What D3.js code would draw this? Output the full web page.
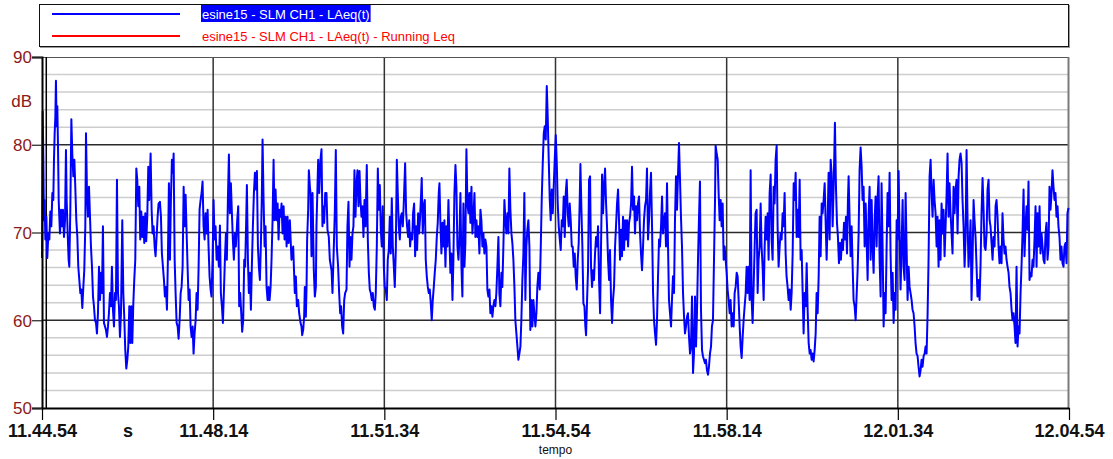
<!DOCTYPE html>
<html>
<head>
<meta charset="utf-8">
<script src="https://cdn.jsdelivr.net/npm/d3@7"></script>
<style>
  html, body { margin: 0; padding: 0; background: #fff; }
  svg { display: block; font-family: "Liberation Sans", Arial, sans-serif; }
</style>
</head>
<body>
<svg id="chart" width="1113" height="459"></svg>
<script>
// Time axis: seconds elapsed since 11.44.54, one labelled tick every 3'20"
const tickSeconds = [0, 200, 400, 600, 800, 1000, 1200];
const tickLabels = ["11.44.54", "11.48.14", "11.51.34", "11.54.54", "11.58.14", "12.01.34", "12.04.54"];
// Level axis (dB)
const levelDomain = [50, 90];
const majorLevels = [50, 60, 70, 80, 90];
const minorStep = 2;
// Legend entries
const seriesNames = ["esine15 - SLM CH1 - LAeq(t)", "esine15 - SLM CH1 - LAeq(t) - Running Leq"];
const seriesColors = ["#0000ff", "#ff0000"];
// Cursor marker (seconds)
const cursorSeconds = 5;

// LAeq(t) samples: [seconds since start, dB]
const levelSeries = [
[0,67.1],[0.8,83.8],[1.6,78.3],[2.3,71.4],[3.1,73.7],[3.9,69.2],[5.1,71.8],[6.2,67.1],[7.4,69.9],[8.6,69.2],[9.7,72.4],[10.9,70.7],[12.1,74.5],[13.2,73.7],[14.0,78.3],[14.8,81.3],[15.6,83.2],[16.3,87.3],[17.1,82.1],[17.9,84.4],[18.7,79.8],[19.5,73.7],[20.2,71.8],[21.0,69.9],[22.2,72.6],[23.4,70.7],[24.5,72.6],[25.7,69.5],[26.9,71.4],[28.0,79.4],[28.8,73.7],[30.0,69.9],[31.1,66.9],[31.9,66.1],[33.1,72.6],[34.3,82.9],[35.4,79.0],[36.6,76.4],[37.8,78.3],[38.9,75.2],[40.1,71.4],[41.3,69.5],[42.4,66.1],[43.6,64.6],[44.8,63.1],[45.9,63.5],[47.1,61.4],[48.3,63.8],[49.4,65.7],[50.6,70.7],[51.4,81.3],[52.6,74.5],[53.7,71.8],[54.9,75.2],[56.1,71.8],[57.2,68.4],[58.4,66.1],[59.6,62.7],[60.7,61.6],[61.9,60.0],[63.1,59.7],[64.2,58.5],[65.4,60.8],[66.6,66.1],[67.8,62.3],[68.9,65.4],[70.1,63.1],[71.2,70.7],[72.4,59.7],[73.6,59.3],[74.7,58.9],[75.9,58.1],[77.1,59.3],[78.2,60.8],[79.4,63.1],[80.6,61.6],[81.7,66.1],[82.9,61.2],[84.1,59.3],[85.3,63.1],[86.4,62.3],[87.6,76.0],[88.8,63.1],[89.9,61.6],[91.1,58.1],[92.3,60.8],[93.8,71.4],[95.0,63.1],[96.1,60.4],[97.3,56.6],[98.5,54.5],[99.7,55.5],[100.8,57.0],[102.0,61.6],[103.2,57.4],[104.3,61.6],[105.5,57.4],[106.7,61.9],[107.8,64.6],[109.0,66.9],[110.2,77.3],[111.3,76.0],[112.5,73.0],[113.7,75.2],[114.8,69.2],[116.0,72.4],[117.2,69.5],[118.3,71.8],[119.5,68.8],[120.7,72.2],[121.8,69.0],[123.0,71.8],[124.2,77.5],[125.3,73.7],[126.9,79.0],[128.1,72.6],[129.2,69.9],[130.4,70.7],[131.6,68.4],[132.7,67.3],[133.9,69.5],[135.1,71.8],[136.2,73.3],[137.8,73.5],[139.0,71.8],[140.1,67.6],[141.3,66.1],[142.5,64.6],[143.6,62.7],[144.8,63.8],[146.0,61.2],[147.1,66.9],[148.3,75.6],[149.5,66.9],[150.6,73.7],[151.8,78.3],[153.0,76.8],[153.8,79.0],[155.0,66.9],[156.1,63.1],[157.3,59.7],[158.5,59.3],[159.6,57.9],[160.8,60.0],[162.0,63.1],[163.1,63.8],[164.3,66.1],[165.5,75.2],[166.6,70.7],[167.8,74.3],[169.0,69.9],[170.1,66.1],[171.3,62.3],[172.5,63.5],[173.6,59.3],[174.8,58.1],[176.0,59.3],[177.1,56.2],[178.3,58.5],[179.5,60.0],[180.6,63.1],[181.8,61.2],[183.0,66.1],[184.1,72.6],[185.3,73.7],[186.5,74.5],[187.6,75.8],[188.8,70.7],[190.0,69.2],[191.1,72.2],[192.3,69.9],[193.5,72.6],[194.6,68.4],[195.8,65.0],[197.0,63.5],[198.1,62.7],[199.3,66.9],[200.5,73.7],[201.6,69.2],[202.8,70.7],[204.0,66.9],[205.2,68.4],[206.7,66.1],[207.9,70.8],[209.0,63.1],[210.2,61.6],[211.4,59.7],[212.5,63.1],[213.7,66.9],[214.9,69.9],[216.0,66.9],[217.2,73.7],[218.4,78.9],[219.5,72.2],[220.7,75.6],[221.9,72.2],[223.0,69.2],[224.2,66.9],[225.4,69.9],[226.5,68.4],[228.1,71.4],[229.3,73.0],[230.4,61.6],[231.6,63.1],[232.8,60.8],[233.9,58.7],[235.1,60.0],[236.3,66.9],[237.4,66.1],[238.6,71.4],[239.4,75.4],[240.6,66.9],[241.7,63.1],[242.9,65.4],[244.1,61.2],[245.2,66.1],[246.4,70.7],[247.6,74.5],[248.8,76.8],[249.9,74.9],[251.1,77.0],[252.3,68.4],[253.4,66.1],[254.6,64.6],[255.8,68.8],[256.9,74.5],[257.7,80.6],[258.9,73.7],[260.1,68.4],[261.2,70.7],[262.4,63.8],[263.6,62.3],[264.7,63.8],[265.9,62.3],[267.1,63.8],[268.2,66.9],[269.4,71.4],[270.6,78.3],[271.7,71.4],[272.9,74.9],[274.1,71.4],[275.3,73.3],[276.4,69.2],[277.6,72.6],[278.8,71.8],[279.9,73.3],[281.1,69.9],[282.3,73.0],[283.4,69.2],[284.6,71.8],[285.8,68.4],[286.9,71.8],[288.1,68.8],
[289.6,71.4],[291.5,66.9],[293.5,68.4],[295.4,63.1],[296.6,65.0],[297.8,61.6],[299.3,62.3],[300.5,60.8],[302.1,59.7],[303.2,59.3],[304.0,58.3],[305.2,58.9],[306.3,60.4],[307.1,63.8],[308.3,60.4],[309.1,63.8],[309.8,69.2],[311.0,72.6],[311.8,77.1],[313.0,75.2],[313.7,74.5],[314.9,67.3],[316.1,74.5],[317.6,65.7],[318.8,62.7],[320.0,63.8],[320.7,70.7],[322.7,78.3],[323.9,74.5],[325.4,78.3],[326.6,79.5],[327.7,70.7],[328.5,73.0],[329.7,71.1],[330.9,74.5],[332.4,74.5],[333.6,70.3],[335.1,69.5],[336.3,66.9],[338.3,65.7],[339.4,63.1],[341.0,68.4],[342.2,72.6],[343.3,79.4],[344.5,68.4],[346.0,66.1],[347.2,63.1],[348.4,60.8],[349.5,61.6],[350.7,59.3],[351.9,58.5],[353.1,62.3],[354.2,63.1],[355.8,63.5],[356.9,70.7],[358.1,73.5],[359.3,66.1],[360.4,69.5],[361.6,66.9],[362.8,69.9],[363.9,70.7],[365.1,77.1],[366.3,71.8],[367.5,75.6],[368.6,77.1],[369.8,73.0],[371.0,77.0],[372.1,73.7],[373.3,71.8],[374.5,73.0],[375.6,69.5],[376.8,73.7],[378.0,70.7],[379.5,77.7],[380.7,69.2],[381.9,65.4],[383.0,63.5],[384.2,63.1],[385.4,62.3],[386.5,63.1],[387.7,61.6],[388.9,61.2],[390.0,63.1],[391.2,68.4],[392.4,77.3],[393.5,72.6],[394.7,75.4],[395.9,70.3],[397.0,68.4],[398.2,73.0],[399.4,66.1],[400.5,63.8],[401.7,63.5],[402.9,62.3],[404.0,66.9],[405.2,68.0],[406.4,71.8],[407.5,67.6],[408.7,73.9],[409.9,68.4],[411.1,66.1],[412.2,63.8],[413.4,68.0],[414.6,78.3],[415.7,74.5],[416.9,70.7],[418.1,69.2],[419.2,71.8],[420.4,72.2],[421.6,70.7],[422.7,73.3],[424.3,77.9],[425.5,72.2],[426.6,70.7],[427.8,69.5],[429.0,71.4],[430.1,68.4],[431.3,69.9],[432.5,69.2],[433.6,72.2],[434.8,73.3],[436.0,67.3],[437.1,70.7],[438.3,68.0],[439.5,72.2],[440.6,69.9],[441.8,71.8],[443.0,74.5],[443.7,76.2],[444.9,69.9],[446.1,73.0],[447.3,73.7],[448.4,66.9],[449.6,65.0],[450.8,63.8],[451.9,63.1],[453.1,63.5],[454.3,61.9],[455.4,60.0],[456.6,62.3],[457.8,63.8],[458.9,65.4],[460.1,66.9],[461.3,69.5],[462.4,71.1],[463.6,74.5],[464.4,75.6],[465.5,71.1],[466.7,67.6],[467.9,71.1],[469.1,68.4],[470.2,71.4],[471.4,66.1],[472.6,70.7],[473.7,68.4],[474.9,73.7],[476.1,69.2],[477.2,65.4],[478.4,67.6],[479.6,62.3],[480.7,66.9],[481.9,74.5],[483.1,77.7],[484.2,75.2],[485.4,68.4],[486.6,66.9],[487.7,69.2],[488.9,74.5],[490.1,66.1],[491.2,62.7],[492.4,73.3],[493.6,66.1],[494.7,68.8],[495.9,79.5],[497.1,73.3],[498.3,72.2],[499.4,74.5],[500.6,71.1],[501.8,75.2],[502.9,69.9],[504.1,71.8],[505.3,74.5],[506.4,69.5],[507.6,71.4],[508.8,69.5],[509.9,70.7],[511.1,67.6],[512.3,72.6],[513.4,71.4],[514.6,68.4],[515.8,69.9],[516.9,67.6],[518.1,69.2],[519.3,68.4],[520.4,63.5],[521.6,62.7],[522.8,63.5],[523.9,60.8],[525.1,61.6],[526.3,60.4],[527.4,61.6],[528.6,62.3],[529.8,61.6],[530.9,63.1],[532.1,66.1],[533.3,69.5],[534.4,63.1],[535.6,61.6],[536.8,65.4],[537.9,63.8],[539.1,68.4],[540.3,73.7],[541.5,71.4],[542.6,69.9],[543.8,72.2],[545.0,69.9],[546.1,77.3],[547.3,72.6],[548.5,69.9],[549.6,68.8],[550.8,66.9],[552.0,63.8],[553.1,60.0],[554.3,58.5],[555.5,57.0],[556.6,55.5],[557.8,56.2],[559.0,57.0],[560.1,60.0],[561.3,64.6],[562.5,67.6],[563.6,74.5],[564.8,62.3],[566.0,68.4],[567.1,70.3],[568.3,71.4],[569.5,68.4],[570.6,58.9],[571.8,62.3],[573.0,59.3],[574.2,62.3],[575.3,60.8],[576.5,59.3],[577.7,60.8],[578.8,63.8],[580.0,65.4],
[581.6,63.5],[582.8,68.4],[583.9,73.7],[585.1,77.9],[586.3,81.3],[587.4,82.1],[588.6,80.6],[589.8,86.7],[590.9,83.2],[592.1,78.3],[593.3,73.7],[594.4,71.4],[595.6,74.9],[596.8,72.2],[597.9,75.2],[599.1,78.3],[600.3,81.1],[601.5,77.9],[602.6,73.3],[603.8,70.7],[605.0,69.2],[606.1,68.0],[607.3,71.4],[608.5,70.7],[609.6,74.1],[610.8,69.5],[612.0,74.5],[613.1,76.0],[614.3,72.2],[615.5,70.7],[616.6,73.3],[617.8,71.4],[619.0,68.4],[620.1,68.4],[621.3,66.1],[622.5,67.6],[623.6,65.0],[624.8,63.5],[626.0,66.9],[627.1,68.8],[628.3,73.7],[629.1,77.8],[630.3,72.6],[631.4,68.4],[632.6,61.9],[633.8,61.6],[634.9,59.3],[635.7,58.3],[636.9,62.3],[638.0,65.7],[639.2,76.0],[640.4,76.4],[641.5,66.1],[642.7,63.8],[643.9,65.7],[645.0,64.6],[646.2,67.6],[647.4,69.5],[648.6,68.4],[649.7,70.7],[650.9,64.6],[652.1,60.8],[653.2,68.4],[654.4,76.6],[655.6,72.2],[656.7,75.2],[657.9,77.3],[659.1,73.3],[660.2,70.7],[661.4,66.9],[662.6,64.6],[663.7,68.0],[664.9,62.3],[666.1,59.7],[667.2,62.3],[668.4,63.8],[669.6,68.4],[670.7,70.7],[671.9,73.3],[673.1,74.9],[674.2,71.4],[675.4,66.9],[676.6,70.3],[677.7,67.3],[678.9,71.8],[680.1,68.0],[681.3,71.4],[682.4,69.2],[683.6,71.4],[684.8,68.4],[685.9,71.1],[687.1,71.8],[688.3,73.3],[689.4,77.5],[690.6,72.6],[691.8,74.1],[692.9,69.9],[694.1,73.0],[695.3,71.4],[696.4,73.3],[697.6,74.1],[698.8,69.9],[699.9,67.6],[701.1,65.7],[702.3,68.4],[703.4,71.4],[704.6,73.0],[705.8,73.7],[706.9,77.3],[708.1,69.2],[709.3,71.4],[710.4,74.5],[711.6,76.8],[712.8,70.7],[714.0,63.1],[715.1,60.0],[716.3,58.5],[717.5,57.2],[718.6,60.0],[719.8,65.0],[721.0,69.2],[722.1,68.4],[723.3,70.7],[724.5,74.1],[725.6,69.9],[726.8,71.4],[728.0,72.2],[729.1,68.4],[730.3,75.6],[731.5,68.4],[732.6,62.3],[733.8,60.8],[735.0,59.3],[736.1,62.3],[737.3,65.0],[738.5,63.1],[739.6,71.4],[740.8,76.4],[742.0,72.6],[743.1,76.4],[744.3,80.2],[745.5,76.0],[746.6,71.8],[747.8,68.4],[749.0,63.1],[750.2,60.4],[751.3,58.5],[752.5,59.3],[753.7,60.4],[754.8,60.8],[756.0,58.1],[757.2,56.2],[758.3,57.0],[759.5,62.7],[760.7,54.0],[761.8,56.2],[763.0,62.7],[764.2,57.0],[765.3,60.8],[766.5,66.9],[767.7,71.8],[768.8,75.8],[770.0,61.2],[771.2,56.6],[772.3,55.9],[773.5,55.5],[774.7,55.1],[775.8,55.5],[777.0,54.3],[778.2,53.8],[779.3,54.7],[780.5,56.2],[781.7,57.0],[782.8,59.3],[784.0,60.0],[785.2,66.9],[786.4,73.7],[787.1,79.9],[788.3,79.0],[789.5,78.3],[790.6,74.5],[791.8,71.4],[793.0,73.7],[794.1,70.7],[795.3,73.3],[796.5,66.9],[797.6,68.4],[798.8,66.9],[800.0,65.4],[801.1,63.5],[802.3,62.3],[803.5,60.8],[804.6,62.3],[805.8,59.3],[807.0,60.8],[808.2,59.3],[809.3,63.1],[810.5,63.8],[811.7,65.4],[812.8,65.0],[814.0,62.3],[815.2,59.3],[816.3,57.0],[817.5,55.7],[818.7,58.1],[819.8,60.0],[821.0,61.6],[822.2,63.1],[823.3,66.1],[824.5,63.1],[825.7,66.1],[826.8,62.3],[828.0,77.1],[829.2,62.3],[830.3,59.7],[831.5,63.8],[832.7,68.4],[833.8,72.2],[835.0,72.6],[836.2,63.1],[837.3,66.9],[838.5,68.4],[839.7,73.3],[840.8,68.4],[842.0,66.1],[843.2,62.3],[844.4,68.4],[845.5,71.8],[846.7,69.2],[847.9,72.2],[849.0,66.9],[850.2,74.5],[851.4,76.6],[852.5,69.2],[853.7,66.9],[854.9,75.2],[856.0,73.3],[857.2,78.3],[858.4,79.9],[859.5,70.7],[860.7,66.1],[861.9,68.4],[863.0,69.9],[864.2,69.2],[865.4,72.2],[866.5,70.7],[867.7,74.5],[868.9,67.6],[870.0,65.0],[871.2,63.8],[872.4,62.3],
[873.6,63.5],[874.8,61.2],[875.9,63.1],[877.1,67.6],[878.3,75.6],[879.4,73.7],[880.6,76.8],[881.8,69.5],[882.9,72.6],[884.1,69.5],[885.3,76.0],[886.4,66.9],[887.6,68.0],[888.8,63.1],[889.9,58.5],[891.1,63.1],[892.3,61.6],[893.5,66.5],[894.6,61.2],[895.8,57.4],[897.0,56.2],[898.1,56.6],[899.3,55.5],[900.5,56.2],[901.6,55.3],[902.8,56.6],[904.0,58.5],[905.1,63.1],[906.3,60.8],[907.5,65.0],[908.6,71.8],[909.8,67.3],[911.0,73.3],[912.1,72.2],[913.3,73.7],[914.5,75.6],[915.6,71.4],[916.8,66.9],[918.0,71.4],[919.1,76.8],[920.3,69.2],[921.5,78.3],[922.6,76.8],[923.8,70.7],[925.0,75.2],[925.8,79.0],[926.5,82.5],[927.7,75.2],[928.9,71.1],[930.0,69.5],[931.2,66.5],[932.4,68.8],[933.5,66.9],[934.7,69.2],[935.9,68.0],[937.1,71.1],[938.2,69.2],[939.4,71.8],[940.6,67.6],[941.7,73.7],[942.5,76.4],[943.7,71.4],[944.8,67.3],[946.0,70.7],[947.2,66.1],[948.3,62.3],[949.5,61.6],[950.7,60.0],[951.8,62.7],[953.0,65.7],[954.2,69.9],[955.3,77.1],[956.5,79.7],[957.7,77.5],[958.8,73.7],[960.0,75.2],[961.2,68.4],[962.4,73.3],[963.5,69.2],[964.7,64.6],[965.9,72.2],[967.0,75.2],[968.2,66.9],[969.4,73.7],[970.5,68.4],[971.7,65.4],[972.9,71.4],[974.0,74.1],[975.2,68.4],[976.4,74.1],[977.5,76.4],[978.7,66.9],[979.9,62.7],[981.0,75.6],[982.2,68.4],[983.4,59.3],[984.5,63.1],[985.7,60.8],[986.9,68.4],[988.0,74.5],[989.2,70.7],[990.4,76.8],[991.5,67.6],[992.7,62.3],[993.9,65.4],[995.1,59.7],[996.2,63.1],[997.4,61.2],[998.6,71.4],[999.7,69.2],[1000.9,77.0],[1002.1,69.5],[1003.2,63.5],[1004.4,68.4],[1005.6,73.7],[1006.7,66.1],[1007.9,64.6],[1009.1,74.5],[1010.2,68.4],[1011.4,62.3],[1012.6,66.1],[1013.7,63.8],[1014.9,63.1],[1016.1,62.3],[1017.2,61.2],[1018.4,60.8],[1019.6,59.3],[1020.7,57.4],[1021.9,56.2],[1023.1,55.9],[1024.2,54.7],[1025.4,53.6],[1026.6,54.3],[1027.7,55.5],[1028.9,54.7],[1030.1,55.9],[1031.3,56.2],[1032.4,57.0],[1033.6,56.2],[1034.8,60.8],[1035.9,66.9],[1037.1,76.4],[1038.3,78.3],[1039.4,74.5],[1040.6,71.8],[1041.8,76.0],[1042.9,73.7],[1044.1,72.2],[1045.3,68.4],[1046.4,71.8],[1047.6,66.1],[1048.8,71.4],[1049.9,66.9],[1051.1,73.3],[1052.3,69.9],[1053.4,72.6],[1054.6,67.3],[1055.8,70.7],[1056.9,74.1],[1058.1,79.0],[1059.3,71.8],[1060.4,75.6],[1061.6,72.2],[1062.8,69.9],[1063.9,67.6],[1065.1,75.2],[1066.3,72.2],[1067.5,74.9],[1068.6,76.0],[1069.8,69.9],[1071.0,76.4],[1072.1,78.3],[1073.3,79.0],[1074.5,77.9],[1075.6,73.7],[1076.8,70.7],[1078.0,66.1],[1079.1,69.2],[1080.3,79.4],[1081.5,71.4],[1082.6,66.1],[1083.8,68.4],[1085.0,71.4],[1086.1,62.3],[1087.3,66.9],[1088.5,73.7],[1089.6,71.4],[1090.8,69.5],[1092.0,66.1],[1093.1,62.7],[1094.3,64.6],[1095.5,62.3],[1096.6,66.1],[1097.8,72.2],[1099.0,76.2],[1100.2,72.6],[1101.3,68.4],[1102.5,68.0],[1103.7,69.9],[1104.8,74.9],[1106.0,76.0],[1107.2,71.4],[1108.3,70.7],[1109.5,68.8],[1110.7,66.9],[1111.8,69.5],[1113.0,68.4],[1114.2,73.0],[1115.3,73.7],[1116.5,71.8],[1117.7,68.4],[1118.8,66.5],[1120.0,68.4],[1121.2,66.5],[1122.3,72.2],[1123.5,69.2],[1124.7,67.6],[1125.8,68.4],[1127.0,66.9],[1128.2,66.1],[1129.4,65.4],[1130.5,63.8],[1131.7,63.1],[1132.9,61.2],[1134.0,60.0],[1135.2,60.8],[1136.4,59.3],[1137.5,57.4],[1138.7,66.1],[1139.9,57.0],[1141.0,59.3],[1142.2,58.5],[1143.4,63.1],[1144.5,66.1],[1145.7,69.9],[1146.9,74.9],[1148.0,67.3],[1149.2,70.7],[1150.4,73.0],[1151.5,70.3],[1152.7,75.8],[1153.9,64.6],[1155.0,65.4],[1156.2,65.0],[1157.4,66.9],[1158.5,66.1],[1159.7,69.2],[1160.9,73.0],[1162.1,66.1],[1163.2,72.2],[1164.4,68.4],[1165.6,73.0],[1166.7,67.6],[1167.9,69.9],[1169.1,68.4],[1170.2,66.9],[1171.4,66.5],[1172.6,69.9],[1173.7,71.1],[1174.9,66.9],[1176.1,68.4],[1177.2,75.2],[1178.4,72.6],[1179.6,74.5],[1180.7,77.1],[1181.9,75.2],[1183.1,73.7],[1184.2,74.5],[1185.4,71.8],[1186.6,73.0],[1187.7,70.7],[1188.9,69.5],[1190.1,66.9],[1191.2,68.4],[1192.4,66.5],[1193.6,66.1],[1194.7,68.4],[1195.9,68.8],[1197.1,66.5],[1198.2,72.2],[1199.4,72.8]
];

const W = 1113, H = 459;
const plot = { left: 42, right: 1069, top: 57, bottom: 408 };

const svg = d3.select("#chart");
svg.append("rect").attr("width", W).attr("height", H).attr("fill", "#fff");

const x = d3.scaleLinear().domain([0, 1200]).range([plot.left, plot.right]);
const y = d3.scaleLinear().domain(levelDomain).range([plot.bottom, plot.top]);

// ---- Legend ----
const legend = svg.append("g");
legend.append("rect")
  .attr("x", 40.5).attr("y", 5.5).attr("width", 1029).attr("height", 42)
  .attr("fill", "none").attr("stroke", "#9a9a9a");
legend.append("rect")
  .attr("x", 39.5).attr("y", 4.5).attr("width", 1029).attr("height", 42)
  .attr("fill", "#fff").attr("stroke", "#111");

const legendRows = [14, 36];
seriesNames.forEach((name, i) => {
  const ly = legendRows[i];
  legend.append("line")
    .attr("x1", 52).attr("x2", 180).attr("y1", ly).attr("y2", ly)
    .attr("stroke", seriesColors[i]).attr("stroke-width", 2);
  const t = legend.append("text")
    .attr("x", 202).attr("y", ly + 5)
    .attr("font-size", 13)
    .attr("fill", i === 0 ? "#fff" : seriesColors[i])
    .text(name);
  if (i === 0) {
    const bb = t.node().getBBox();
    legend.insert("rect", () => t.node())
      .attr("x", bb.x - 1).attr("y", ly - 9)
      .attr("width", bb.width + 2).attr("height", 17)
      .attr("fill", "#0000ff");
  }
});

// ---- Grid ----
const grid = svg.append("g");
const minorLevels = d3.range(levelDomain[0] + minorStep, levelDomain[1], minorStep)
  .filter(v => !majorLevels.includes(v));
grid.selectAll("line.minor").data(minorLevels).join("line")
  .attr("class", "minor")
  .attr("x1", plot.left + 1).attr("x2", plot.right)
  .attr("y1", d => y(d)).attr("y2", d => y(d))
  .attr("stroke", "#cdcdcd").attr("stroke-width", 1.5);

grid.selectAll("line.major").data(majorLevels.slice(1, -1)).join("line")
  .attr("class", "major")
  .attr("x1", plot.left).attr("x2", plot.right)
  .attr("y1", d => y(d)).attr("y2", d => y(d))
  .attr("stroke", "#2b2b2b").attr("stroke-width", 1.5);

grid.selectAll("line.vert").data(tickSeconds.slice(1, -1)).join("line")
  .attr("class", "vert")
  .attr("x1", d => x(d)).attr("x2", d => x(d))
  .attr("y1", plot.top).attr("y2", plot.bottom)
  .attr("stroke", "#333").attr("stroke-width", 1.5);

// frame: top and right edges
grid.append("line")
  .attr("x1", plot.left).attr("x2", plot.right)
  .attr("y1", y(levelDomain[1]) + 0.5).attr("y2", y(levelDomain[1]) + 0.5)
  .attr("stroke", "#555").attr("stroke-width", 1);
grid.append("line")
  .attr("x1", plot.right - 0.5).attr("x2", plot.right - 0.5)
  .attr("y1", plot.top).attr("y2", plot.bottom)
  .attr("stroke", "#7a7a7a").attr("stroke-width", 2);

// cursor marker
grid.append("line")
  .attr("x1", x(cursorSeconds)).attr("x2", x(cursorSeconds))
  .attr("y1", plot.top).attr("y2", plot.bottom)
  .attr("stroke", "#000").attr("stroke-width", 1.5);

// ---- Series ----
const line = d3.line().x(d => x(d[0])).y(d => y(d[1]));
svg.append("path")
  .datum(levelSeries)
  .attr("d", line)
  .attr("fill", "none")
  .attr("stroke", seriesColors[0])
  .attr("stroke-width", 2)
  .attr("stroke-linejoin", "round");

// ---- Axes ----
const yAxis = d3.axisLeft(y).tickValues(majorLevels).tickSize(10).tickPadding(0);
const gy = svg.append("g").attr("transform", `translate(${plot.left},0)`).call(yAxis);
gy.select(".domain").attr("stroke", "#000").attr("stroke-width", 2);
gy.selectAll(".tick line").attr("stroke", "#222").attr("stroke-width", 1.2);
gy.selectAll(".tick text")
  .attr("font-family", "Liberation Sans, Arial, sans-serif")
  .attr("font-size", 17).attr("fill", "#8b1a1a").attr("dy", "0.34em");

svg.append("text")
  .attr("x", 32).attr("y", y(85) + 6)
  .attr("text-anchor", "end")
  .attr("font-size", 17).attr("fill", "#8b1a1a")
  .text("dB");

const xAxis = d3.axisBottom(x).tickValues(tickSeconds)
  .tickFormat((d, i) => tickLabels[i]).tickSize(12).tickPadding(4).tickSizeOuter(0);
const gx = svg.append("g").attr("transform", `translate(0,${plot.bottom})`).call(xAxis);
gx.select(".domain").attr("stroke", "#000").attr("stroke-width", 2);
gx.selectAll(".tick line").attr("stroke", "#000").attr("stroke-width", 1.2);
gx.selectAll(".tick text")
  .attr("font-family", "Liberation Sans, Arial, sans-serif")
  .attr("font-size", 18).attr("font-weight", "bold").attr("fill", "#111");

svg.append("text")
  .attr("x", 128).attr("y", 437)
  .attr("text-anchor", "middle")
  .attr("font-size", 18).attr("font-weight", "bold").attr("fill", "#111")
  .text("s");

svg.append("text")
  .attr("x", (plot.left + plot.right) / 2).attr("y", 454)
  .attr("text-anchor", "middle")
  .attr("font-size", 12).attr("fill", "#111")
  .text("tempo");
</script>
</body>
</html>
